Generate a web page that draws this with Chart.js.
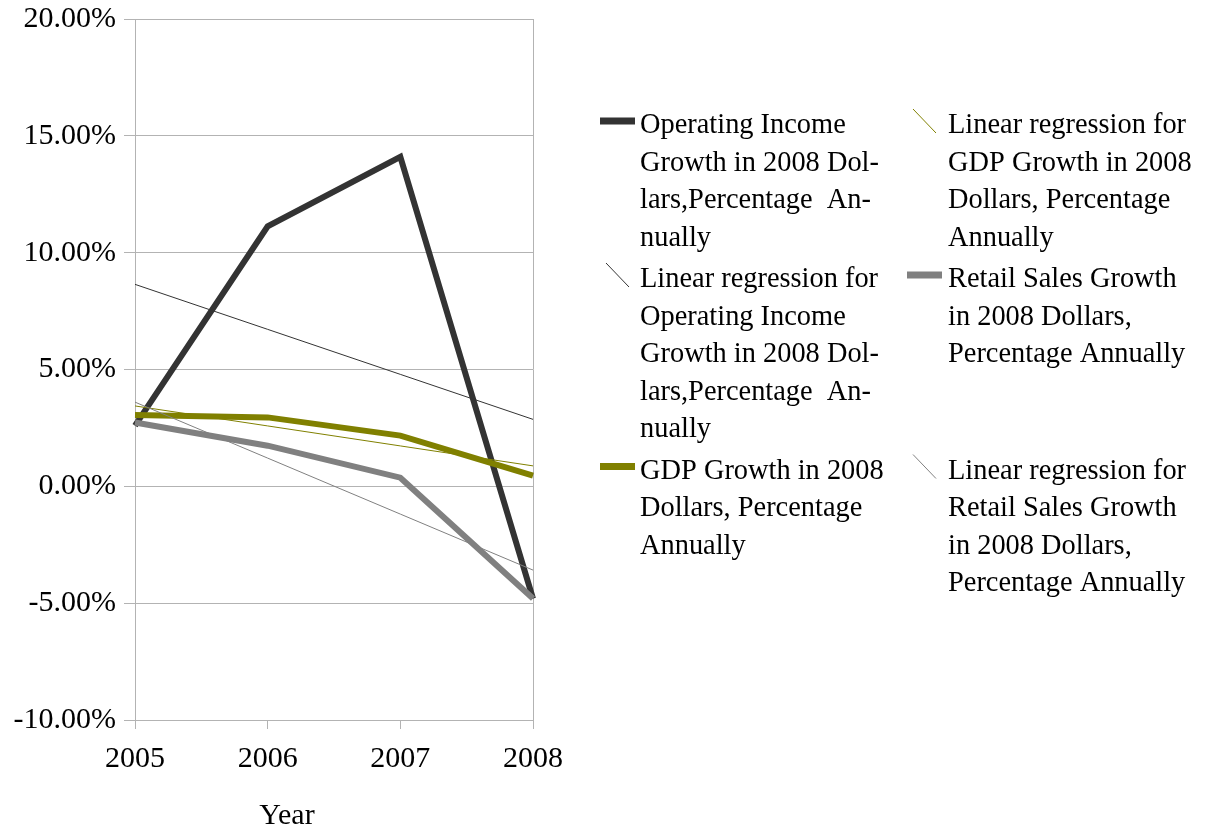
<!DOCTYPE html>
<html>
<head>
<meta charset="utf-8">
<title>Growth in 2008 Dollars</title>
<script src="https://cdn.jsdelivr.net/npm/chart.js@4/dist/chart.umd.min.js"></script>
<style>
  html, body { margin: 0; padding: 0; background: #ffffff; }
  canvas { display: block; }
</style>
</head>
<body>
<canvas id="chart" width="1205" height="830"></canvas>
<script>
// Categories and series values (percent growth per year)
const years = ['2005', '2006', '2007', '2008'];
const operatingIncome = [2.6, 11.13, 14.1, -4.81];
const gdpGrowth = [3.05, 2.95, 2.17, 0.46];
const retailGrowth = [2.73, 1.74, 0.37, -4.8];

// Value axis range
const yMin = -10;
const yMax = 20;
const yStep = 5;

const xAxisTitle = 'Year';

// Legend text, broken into lines the way it is printed
const labelOperating = ['Operating Income', 'Growth in 2008 Dol-', 'lars,Percentage  An-', 'nually'];
const labelOperatingFit = ['Linear regression for', 'Operating Income', 'Growth in 2008 Dol-', 'lars,Percentage  An-', 'nually'];
const labelGdp = ['GDP Growth in 2008', 'Dollars, Percentage', 'Annually'];
const labelGdpFit = ['Linear regression for', 'GDP Growth in 2008', 'Dollars, Percentage', 'Annually'];
const labelRetail = ['Retail Sales Growth', 'in 2008 Dollars,', 'Percentage Annually'];
const labelRetailFit = ['Linear regression for', 'Retail Sales Growth', 'in 2008 Dollars,', 'Percentage Annually'];

const colorOperating = '#333333';
const colorGdp = '#808000';
const colorRetail = '#808080';
const gridColor = '#b3b3b3';
const serif = '"Liberation Serif", "Times New Roman", serif';

// Least-squares straight line through a series, evaluated at each category
function linearFit(values) {
  const n = values.length;
  let sx = 0, sy = 0, sxx = 0, sxy = 0;
  values.forEach((v, i) => { sx += i; sy += v; sxx += i * i; sxy += i * v; });
  const slope = (n * sxy - sx * sy) / (n * sxx - sx * sx);
  const intercept = (sy - slope * sx) / n;
  return values.map((_, i) => intercept + slope * i);
}

function series(lines, data, color, width, fit) {
  return {
    label: lines.join(' ').replace(/- /g, ''),
    legendLines: lines,
    isFit: fit,
    data: data,
    borderColor: color,
    backgroundColor: color,
    borderWidth: width,
    pointRadius: 0,
    pointHoverRadius: 0,
    tension: 0,
    fill: false,
    borderJoinStyle: 'miter',
    borderCapStyle: 'butt'
  };
}

const datasets = [
  series(labelOperating, operatingIncome, colorOperating, 6, false),
  series(labelOperatingFit, linearFit(operatingIncome), colorOperating, 1, true),
  series(labelGdp, gdpGrowth, colorGdp, 6, false),
  series(labelGdpFit, linearFit(gdpGrowth), colorGdp, 1, true),
  series(labelRetail, retailGrowth, colorRetail, 6, false),
  series(labelRetailFit, linearFit(retailGrowth), colorRetail, 1, true)
];
// later series are painted over earlier ones
datasets.forEach((d, i) => { d.order = datasets.length - i; });

// Axis title, set a little left of the plot's middle
const axisTitle = {
  id: 'axisTitle',
  afterDraw(chart) {
    const ctx = chart.ctx;
    ctx.save();
    ctx.font = '30px ' + serif;
    ctx.fillStyle = '#000000';
    ctx.textAlign = 'center';
    ctx.textBaseline = 'middle';
    ctx.fillText(xAxisTitle, chart.chartArea.left + 152, chart.chartArea.bottom + 96);
    ctx.restore();
  }
};

// Two-column legend with wrapped labels, filled column by column
const sideLegend = {
  id: 'sideLegend',
  afterDraw(chart) {
    const ctx = chart.ctx;
    const sets = chart.data.datasets;
    const fontSize = 28.4;
    const lineHeight = 37.5;
    const rowGap = 4;
    const firstLine = 126;
    const columns = [
      { iconLeft: 600, iconRight: 635, textX: 640 },
      { iconLeft: 907, iconRight: 942, textX: 948 }
    ];
    const perColumn = Math.ceil(sets.length / columns.length);
    const rowHeights = [];
    for (let r = 0; r < perColumn; r++) {
      let m = 0;
      for (let c = 0; c < columns.length; c++) {
        const d = sets[c * perColumn + r];
        if (d) m = Math.max(m, d.legendLines.length);
      }
      rowHeights.push(m * lineHeight + rowGap);
    }
    ctx.save();
    ctx.font = fontSize + 'px ' + serif;
    ctx.textBaseline = 'middle';
    ctx.textAlign = 'left';
    sets.forEach((d, i) => {
      const col = columns[Math.floor(i / perColumn)];
      const row = i % perColumn;
      let y = firstLine;
      for (let r = 0; r < row; r++) y += rowHeights[r];
      const iconY = y - 5;
      ctx.strokeStyle = d.borderColor;
      ctx.lineCap = 'butt';
      ctx.beginPath();
      if (d.isFit) {
        ctx.lineWidth = 1;
        ctx.moveTo(col.iconLeft + 6, iconY - 12);
        ctx.lineTo(col.iconRight - 6, iconY + 12);
      } else {
        ctx.lineWidth = 7;
        ctx.moveTo(col.iconLeft, iconY);
        ctx.lineTo(col.iconRight, iconY);
      }
      ctx.stroke();
      ctx.fillStyle = '#000000';
      d.legendLines.forEach((t, k) => ctx.fillText(t, col.textX, y + k * lineHeight));
    });
    ctx.restore();
  }
};

const axisFont = { family: serif, size: 30 };

new Chart(document.getElementById('chart'), {
  type: 'line',
  data: { labels: years, datasets: datasets },
  options: {
    responsive: false,
    animation: false,
    devicePixelRatio: 1,
    layout: { padding: { top: 19, right: 672, bottom: 0, left: 0 } },
    plugins: {
      legend: { display: false },
      tooltip: { enabled: false }
    },
    scales: {
      x: {
        offset: false,
        grid: {
          color: c => (c.index === 0 || c.index === years.length - 1) ? gridColor : 'rgba(0,0,0,0)',
          tickColor: gridColor,
          tickLength: 9,
          lineWidth: 1
        },
        border: { color: gridColor },
        ticks: { font: axisFont, color: '#000000', padding: 12, maxRotation: 0, autoSkip: false },
        afterFit(scale) { scale.height = 110; }
      },
      y: {
        min: yMin,
        max: yMax,
        grid: { color: gridColor, tickColor: gridColor, tickLength: 11, lineWidth: 1 },
        border: { color: gridColor },
        ticks: {
          stepSize: yStep,
          font: axisFont,
          color: '#000000',
          padding: 8,
          callback: v => v.toFixed(2) + '%'
        },
        afterFit(scale) {
          scale.width = 135;
          scale.paddingTop = 0;
          scale.paddingBottom = 0;
        }
      }
    }
  },
  plugins: [sideLegend, axisTitle]
});
</script>
</body>
</html>
